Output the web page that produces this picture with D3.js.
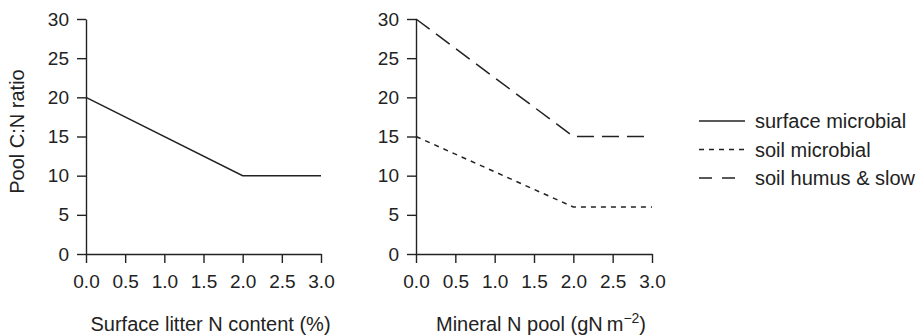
<!DOCTYPE html>
<html>
<head>
<meta charset="utf-8">
<script src="https://cdn.jsdelivr.net/npm/d3@7"></script>
<style>
	body { margin: 0; background: #fff; }
	svg { display: block; }
	text { font-family: "Liberation Sans", Arial, sans-serif; fill: #222; }
</style>
</head>
<body>
<svg id="chart" width="917" height="335"></svg>
<script>
"use strict";

// x values shared by every series (breakpoints of the piecewise lines)
var xBreaks = [0, 2, 3];

// left panel: C:N ratio vs surface litter N content
var surfaceMicrobial = [20, 10, 10];

// right panel: C:N ratio vs mineral N pool
var soilMicrobial = [15, 6, 6];
var soilHumusSlow = [30, 15, 15];

var xTicks = [0, 0.5, 1, 1.5, 2, 2.5, 3];
var yTicks = [0, 5, 10, 15, 20, 25, 30];

var legendItems = [
	{name: "surface microbial", dash: null},
	{name: "soil microbial", dash: "5,5"},
	{name: "soil humus & slow", dash: "13,10"}
];

var svg = d3.select("#chart");
var ink = "#222";

var y = d3.scaleLinear().domain([0, 30]).range([254, 19]);

// draw one panel, returns the x scale
function drawPanel(left, right, xTitle, yTitle, series) {
	var x = d3.scaleLinear().domain([0, 3]).range([left, right]);
	var g = svg.append("g");

	var xAxis = g.append("g")
		.attr("transform", "translate(0," + y(0) + ")")
		.call(d3.axisBottom(x).tickValues(xTicks).tickFormat(d3.format(".1f"))
			.tickSizeInner(9).tickSizeOuter(0).tickPadding(12));

	var yAxis = g.append("g")
		.attr("transform", "translate(" + left + ",0)")
		.call(d3.axisLeft(y).tickValues(yTicks)
			.tickSizeInner(9).tickSizeOuter(0).tickPadding(8));

	[xAxis, yAxis].forEach(function(a) {
		a.selectAll("path, line").attr("stroke", ink).attr("stroke-width", 1.4);
		a.selectAll("text").attr("font-size", 19).attr("fill", ink)
			.style("font-family", "'Liberation Sans', Arial, sans-serif");
	});

	var title = g.append("text")
		.attr("x", (left + right) / 2 + 7)
		.attr("y", 331)
		.attr("text-anchor", "middle")
		.attr("font-size", 20);
	xTitle(title);

	if (yTitle) {
		g.append("text")
			.attr("transform", "translate(24," + ((y(0) + y(30)) / 2 - 5) + ") rotate(-90)")
			.attr("text-anchor", "middle")
			.attr("font-size", 20)
			.text(yTitle);
	}

	var line = d3.line()
		.x(function(d, i) { return x(xBreaks[i]); })
		.y(function(d) { return y(d); });

	series.forEach(function(s) {
		g.append("path")
			.datum(s.values)
			.attr("d", line)
			.attr("fill", "none")
			.attr("stroke", ink)
			.attr("stroke-width", 1.5)
			.attr("stroke-dasharray", s.dash);
	});
	return x;
}

drawPanel(86, 321, function(t) {
	t.text("Surface litter N content (%)");
}, "Pool C:N ratio", [
	{values: surfaceMicrobial, dash: null}
]);

drawPanel(416, 652, function(t) {
	t.append("tspan").text("Mineral N pool (gN\u2009m");
	t.append("tspan").attr("dy", -8).attr("font-size", 14).text("\u22122");
	t.append("tspan").attr("dy", 8).text(")");
}, null, [
	{values: soilHumusSlow, dash: "17,8"},
	{values: soilMicrobial, dash: "5,5"}
]);

// legend
var legend = svg.append("g").attr("transform", "translate(699,121)");
legendItems.forEach(function(item, i) {
	var row = legend.append("g").attr("transform", "translate(0," + i * 28.5 + ")");
	row.append("line")
		.attr("x1", 0).attr("x2", 46)
		.attr("stroke", ink).attr("stroke-width", 1.5)
		.attr("stroke-dasharray", item.dash);
	row.append("text")
		.attr("x", 56).attr("dy", "0.35em")
		.attr("font-size", 20)
		.text(item.name);
});
</script>
</body>
</html>
